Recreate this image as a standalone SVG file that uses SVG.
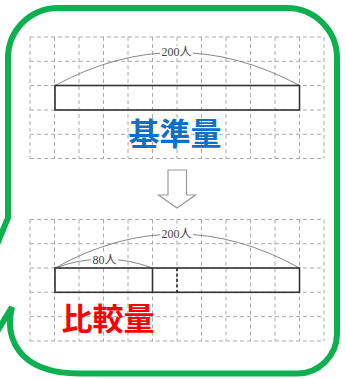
<svg xmlns="http://www.w3.org/2000/svg" width="346" height="379" viewBox="0 0 346 379">
<style>
.grid{stroke:#aaaaaa;stroke-width:1;stroke-dasharray:4 3;fill:none}
.bar{stroke:#333333;stroke-width:1.6;fill:none}
.arc{stroke:#888888;stroke-width:1;fill:none}
.lbl{font-family:"Liberation Serif","Noto Sans CJK JP",serif;font-size:12px;fill:#444444;text-anchor:middle;dominant-baseline:central}
.big{font-family:"Noto Sans CJK JP","Noto Sans",sans-serif;font-weight:bold;font-size:31px;text-anchor:middle}
.border{stroke:#0db04f;stroke-width:6;fill:none;stroke-linejoin:miter}
</style>
<rect width="346" height="379" fill="#ffffff"/>
<g id="border">
<path class="border" d="M -10,261 L 8,218 L 8,58 A 50 50 0 0 1 58,8 L 287,8 A 50 50 0 0 1 337,58 L 337,333.5 A 40 40 0 0 1 297,373.5 L 80,373.5 C 15,373.5 5,335 12,307 L -8,340"/>
</g>
<g id="grid-top">
<path class="grid" d="M30,37H324M30,61.3H324M30,85.5H324M30,110H324M30,134.3H324M30,158.5H324"/>
<path class="grid" d="M30,37V158.5M54.5,37V158.5M79,37V158.5M103.5,37V158.5M128,37V158.5M152.5,37V158.5M177,37V158.5M201.5,37V158.5M226,37V158.5M250.5,37V158.5M275,37V158.5M299.5,37V158.5M324,37V158.5"/>
</g>
<g id="grid-bottom">
<path class="grid" d="M30,219.5H324M30,243.7H324M30,268H324M30,292.3H324M30,316.6H324M30,341H324"/>
<path class="grid" d="M30,219.5V341M54.5,219.5V341M79,219.5V341M103.5,219.5V341M128,219.5V341M152.5,219.5V341M177,219.5V341M201.5,219.5V341M226,219.5V341M250.5,219.5V341M275,219.5V341M299.5,219.5V341M324,219.5V341"/>
</g>
<g id="connectors">
<path class="arc" d="M55,85.5 Q177,19.5 299.5,85.5"/>
<path class="arc" d="M55,268 Q177,200 299.5,268"/>
<path class="arc" d="M55,268 Q104,250 152.5,268"/>
</g>
<g id="base-bar">
<rect class="bar" x="55" y="85.5" width="244.5" height="24.5"/>
<rect x="160" y="46" width="33" height="12" fill="#ffffff"/>
<text class="lbl" x="176.5" y="52">200人</text>
<text class="big" x="175" y="145" fill="#0f6fc6">基準量</text>
</g>
<g id="arrow">
<path d="M168,170 H186.5 V195 H195.5 L177,208 L158.5,195 H168 Z" fill="#ffffff" stroke="#999999" stroke-width="1.2"/>
</g>
<g id="compare-bar">
<rect class="bar" x="55" y="268" width="244.5" height="24.3"/>
<line class="bar" x1="152.5" y1="268" x2="152.5" y2="292.3"/>
<line x1="177" y1="268" x2="177" y2="292.3" stroke="#222222" stroke-width="1.6" stroke-dasharray="3 2.5"/>
<rect x="160" y="228" width="33" height="12" fill="#ffffff"/>
<text class="lbl" x="176.5" y="234">200人</text>
<rect x="91" y="254" width="27" height="12" fill="#ffffff"/>
<text class="lbl" x="104.5" y="260">80人</text>
<text class="big" x="108" y="330" fill="#ff0000">比較量</text>
</g>
</svg>
